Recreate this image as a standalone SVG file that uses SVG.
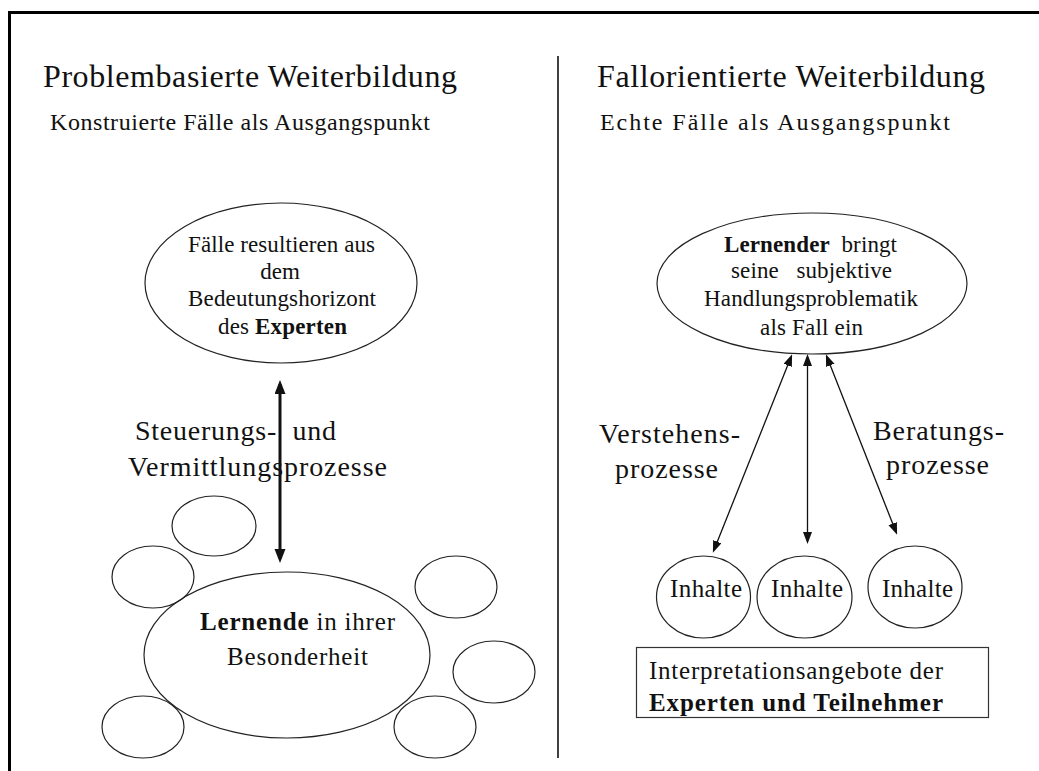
<svg xmlns="http://www.w3.org/2000/svg" width="1039" height="771" viewBox="0 0 1039 771">
<style>
text{font-family:"Liberation Serif","Times New Roman",serif;fill:#111;}
.t1{font-size:32px;}
.t2{font-size:24px;}
.e{font-size:23px;}
.l{font-size:28px;}
.m{font-size:25px;}
.b{font-weight:bold;}
.shape{fill:none;stroke:#222;stroke-width:1.2;}
.thin{stroke:#111;stroke-width:1.3;fill:none;}
.thick{stroke:#111;stroke-width:3;fill:none;}
</style>
<defs>
<marker id="ahBig" markerUnits="userSpaceOnUse" markerWidth="16" markerHeight="12" refX="10" refY="5.5" orient="auto-start-reverse" viewBox="0 0 16 12">
<path d="M0,0 L14,5.5 L0,11 z" fill="#111"/>
</marker>
<marker id="ahSmall" markerUnits="userSpaceOnUse" markerWidth="13" markerHeight="10" refX="9" refY="4.5" orient="auto-start-reverse" viewBox="0 0 13 10">
<path d="M0,0 L12,4.5 L0,9 z" fill="#111"/>
</marker>
</defs>
<rect width="1039" height="771" fill="#fff"/>
<g id="frame">
<rect x="8" y="11" width="1031" height="3" fill="#000"/>
<rect x="8" y="11" width="3" height="760" fill="#000"/>
<line x1="558" y1="56" x2="558" y2="758" stroke="#111" stroke-width="1.6"/>
</g>
<g id="headings">
<text class="t1" x="43" y="87" textLength="414" lengthAdjust="spacing">Problembasierte Weiterbildung</text>
<text class="t2" x="50" y="130" textLength="380" lengthAdjust="spacing">Konstruierte Fälle als Ausgangspunkt</text>
<text class="t1" x="597" y="87" textLength="388" lengthAdjust="spacing">Fallorientierte Weiterbildung</text>
<text class="t2" x="600" y="130" textLength="350" lengthAdjust="spacing">Echte Fälle als Ausgangspunkt</text>
</g>
<g id="connectors">
<line class="thick" x1="280" y1="384" x2="280" y2="559" marker-start="url(#ahBig)" marker-end="url(#ahBig)"/>
<line class="thin" x1="791" y1="357" x2="714" y2="550" marker-start="url(#ahSmall)" marker-end="url(#ahSmall)"/>
<line class="thin" x1="807.5" y1="357" x2="807.5" y2="541" marker-start="url(#ahSmall)" marker-end="url(#ahSmall)"/>
<line class="thin" x1="827" y1="357" x2="896" y2="532" marker-start="url(#ahSmall)" marker-end="url(#ahSmall)"/>
</g>
<g id="node-experten">
<ellipse class="shape" cx="281" cy="283" rx="136" ry="80"/>
<text class="e" x="188" y="252" textLength="187" lengthAdjust="spacing">Fälle resultieren aus</text>
<text class="e" x="280" y="279" text-anchor="middle">dem</text>
<text class="e" x="188" y="306" textLength="188" lengthAdjust="spacing">Bedeutungshorizont</text>
<text class="e" x="218" y="334" textLength="129" lengthAdjust="spacing">des <tspan class="b">Experten</tspan></text>
</g>
<g id="label-steuerung">
<text class="l" x="135" y="440" textLength="201" lengthAdjust="spacing" style="white-space:pre">Steuerungs-  und</text>
<text class="l" x="128" y="476" textLength="259" lengthAdjust="spacing">Vermittlungsprozesse</text>
</g>
<g id="node-small-1"><ellipse class="shape" cx="214" cy="526" rx="42" ry="30"/></g>
<g id="node-small-2"><ellipse class="shape" cx="153" cy="577" rx="41" ry="31"/></g>
<g id="node-small-3"><ellipse class="shape" cx="456" cy="587" rx="41" ry="31"/></g>
<g id="node-small-4"><ellipse class="shape" cx="494" cy="672" rx="41" ry="31"/></g>
<g id="node-small-5"><ellipse class="shape" cx="143" cy="727" rx="41" ry="31"/></g>
<g id="node-small-6"><ellipse class="shape" cx="435" cy="727" rx="41" ry="31"/></g>
<g id="node-lernende">
<ellipse class="shape" cx="287" cy="655" rx="143" ry="83"/>
<text class="m" x="200" y="630" textLength="195" lengthAdjust="spacing"><tspan class="b">Lernende</tspan> in ihrer</text>
<text class="m" x="227" y="665" textLength="141" lengthAdjust="spacing">Besonderheit</text>
</g>
<g id="node-lernender">
<ellipse class="shape" cx="812" cy="283.5" rx="155" ry="70.5"/>
<text class="e" x="724" y="252" textLength="173" lengthAdjust="spacing" style="white-space:pre"><tspan class="b">Lernender</tspan>  bringt</text>
<text class="e" x="731" y="278" textLength="161" lengthAdjust="spacing" style="white-space:pre">seine   subjektive</text>
<text class="e" x="704" y="306" textLength="214" lengthAdjust="spacing">Handlungsproblematik</text>
<text class="e" x="760" y="335" textLength="103" lengthAdjust="spacing">als Fall ein</text>
</g>
<g id="label-verstehen">
<text class="l" x="599" y="443" textLength="141" lengthAdjust="spacing">Verstehens-</text>
<text class="l" x="615" y="478" textLength="103" lengthAdjust="spacing">prozesse</text>
</g>
<g id="label-beratung">
<text class="l" x="873" y="440" textLength="131" lengthAdjust="spacing">Beratungs-</text>
<text class="l" x="886" y="474" textLength="103" lengthAdjust="spacing">prozesse</text>
</g>
<g id="node-inhalte-1">
<ellipse class="shape" cx="703.5" cy="597" rx="47" ry="41"/>
<text class="m" x="670" y="597" textLength="72" lengthAdjust="spacing">Inhalte</text>
</g>
<g id="node-inhalte-2">
<ellipse class="shape" cx="804.5" cy="597" rx="47.5" ry="41"/>
<text class="m" x="771" y="597" textLength="72" lengthAdjust="spacing">Inhalte</text>
</g>
<g id="node-inhalte-3">
<ellipse class="shape" cx="915" cy="587" rx="47" ry="41"/>
<text class="m" x="882" y="597" textLength="71" lengthAdjust="spacing">Inhalte</text>
</g>
<g id="node-interpretation">
<rect x="636.5" y="647.5" width="352" height="70" fill="none" stroke="#333" stroke-width="1.2"/>
<text class="m" x="649" y="679" textLength="294" lengthAdjust="spacing">Interpretationsangebote der</text>
<text class="m b" x="649" y="711" textLength="294" lengthAdjust="spacing">Experten und Teilnehmer</text>
</g>
</svg>
